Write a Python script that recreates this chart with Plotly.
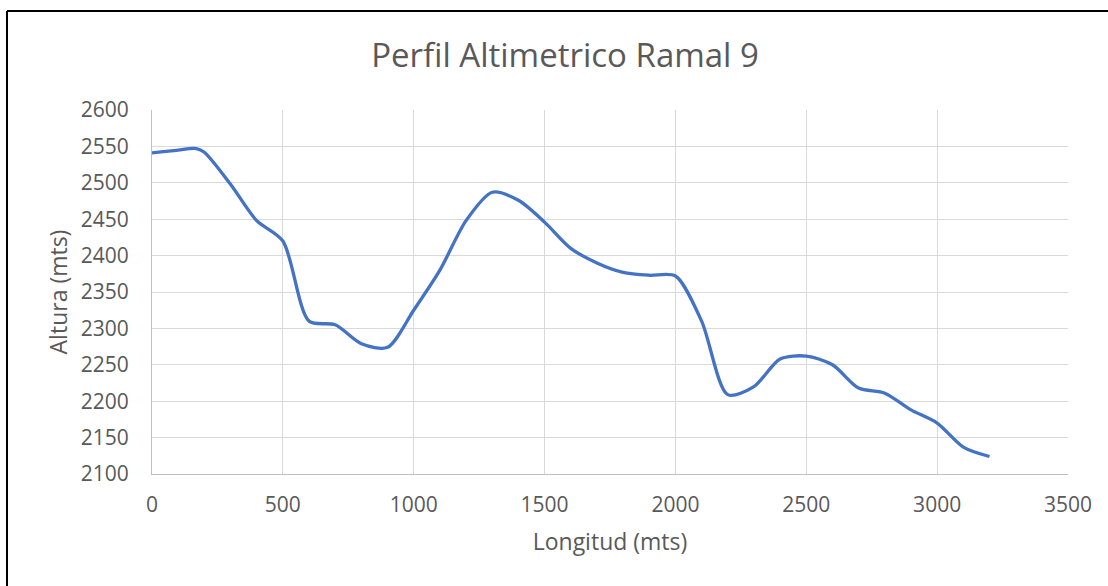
import plotly.graph_objects as go

longitud = [0, 100, 170, 200, 300, 400, 500, 600, 700, 800, 900, 1000, 1100, 1200,
            1300, 1400, 1500, 1600, 1700, 1800, 1900, 2000, 2100, 2200, 2300, 2400,
            2500, 2600, 2700, 2800, 2900, 3000, 3100, 3200]
altura = [2541, 2545, 2547, 2542, 2498, 2448, 2420, 2310, 2305, 2279, 2274, 2325, 2380, 2448,
          2487, 2476, 2446, 2410, 2390, 2377, 2373, 2372, 2310, 2209, 2220, 2258,
          2262, 2250, 2218, 2211, 2188, 2170, 2137, 2124]

x_ticks = [0, 500, 1000, 1500, 2000, 2500, 3000, 3500]
y_ticks = [2100, 2150, 2200, 2250, 2300, 2350, 2400, 2450, 2500, 2550, 2600]

FONT = "Open Sans"
GREY = "#595959"

fig = go.Figure()
fig.add_trace(go.Scatter(
    x=longitud, y=altura, mode="lines",
    line=dict(color="#4472c4", width=3.3, shape="spline", smoothing=0.8),
    showlegend=False, hoverinfo="x+y"))

W, H = 1108, 586
L, R, T, B = 152, 1068, 110, 474

def px_to_paper_x(px):
    return (px - L) / (R - L)

def px_to_paper_y(py):
    return (B - py) / (B - T)

fig.update_layout(
    width=W, height=H,
    margin=dict(l=L, r=W - R, t=T, b=H - B),
    paper_bgcolor="white", plot_bgcolor="white",
    font=dict(family=FONT, color=GREY, size=21),
    title=dict(text="Perfil Altimetrico Ramal 9", x=565 / W, xanchor="center", xref="container",
               y=1 - 55 / H, yanchor="middle", yref="container",
               font=dict(family=FONT, size=33, color=GREY)),
    xaxis=dict(range=[0, 3500], tickvals=x_ticks, showgrid=True, gridcolor="#d9d9d9",
               gridwidth=1, zeroline=False, showline=True, linecolor="#bfbfbf", linewidth=1,
               ticks="", ticklabelstandoff=12, tickfont=dict(size=21, color=GREY),
               title=dict(text="Longitud (mts)", standoff=16, font=dict(size=23, color=GREY))),
    yaxis=dict(range=[2100, 2600], tickvals=y_ticks, showgrid=True, gridcolor="#d9d9d9",
               gridwidth=1, zeroline=False, showline=True, linecolor="#bfbfbf", linewidth=1,
               ticks="", ticklabelstandoff=18, tickfont=dict(size=21, color=GREY),
               title=dict(text="Altura (mts)", standoff=6, font=dict(size=23, color=GREY))),
)

# outer black frame (top and left edges visible)
x_left = px_to_paper_x(7)
y_top = px_to_paper_y(11)
fig.add_shape(type="line", xref="paper", yref="paper",
              x0=x_left, x1=x_left, y0=px_to_paper_y(H + 10), y1=y_top,
              line=dict(color="black", width=2))
fig.add_shape(type="line", xref="paper", yref="paper",
              x0=x_left, x1=px_to_paper_x(W + 10), y0=y_top, y1=y_top,
              line=dict(color="black", width=2))

fig.write_html("out.html")
